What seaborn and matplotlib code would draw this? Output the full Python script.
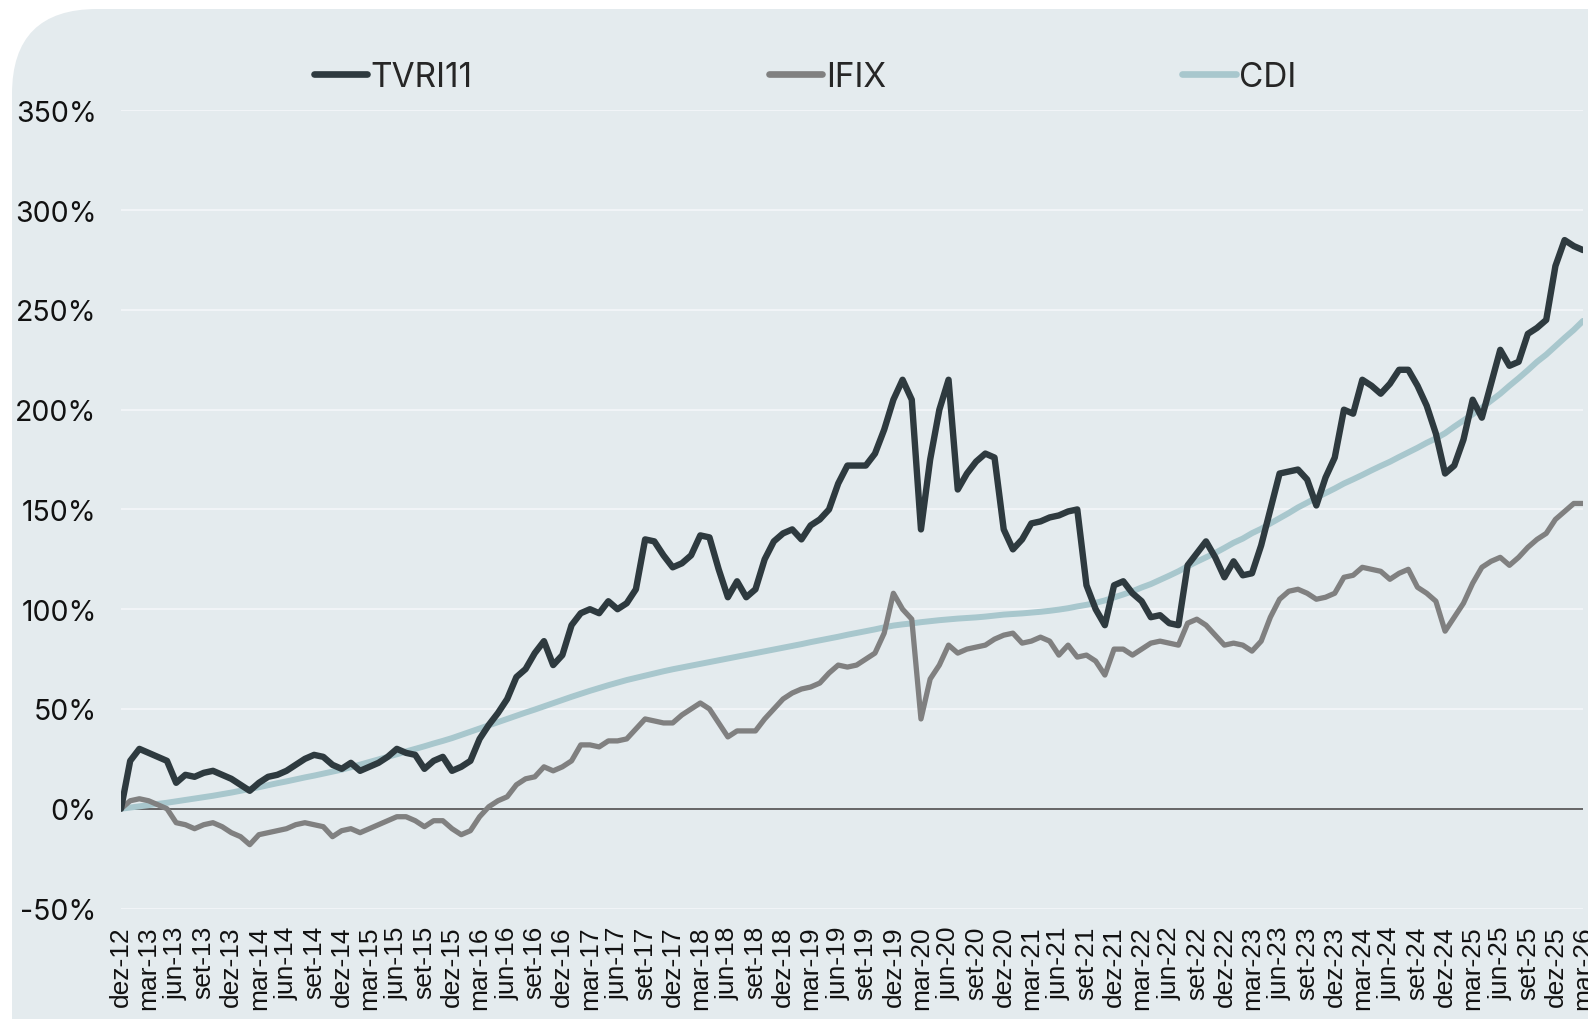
import numpy as np
import pandas as pd
import seaborn as sns
import matplotlib.pyplot as plt
from matplotlib.patches import FancyBboxPatch
from matplotlib.lines import Line2D
from matplotlib.transforms import IdentityTransform

# monthly closes, Dec/2012 .. Mar/2026, accumulated return in %
tvri11 = [
    0, 24, 30, 28, 26, 24, 13, 17, 16, 18, 19, 17,
    15, 12, 9, 13, 16, 17, 19, 22, 25, 27, 26, 22,
    20, 23, 19, 21, 23, 26, 30, 28, 27, 20, 24, 26,
    19, 21, 24, 35, 42, 48, 55, 66, 70, 78, 84, 72,
    77, 92, 98, 100, 98, 104, 100, 103, 110, 135, 134, 127,
    121, 123, 127, 137, 136, 120, 106, 114, 106, 110, 125, 134,
    138, 140, 135, 142, 145, 150, 163, 172, 172, 172, 178, 190,
    205, 215, 205, 140, 175, 200, 215, 160, 168, 174, 178, 176,
    140, 130, 135, 143, 144, 146, 147, 149, 150, 112, 100, 92,
    112, 114, 108, 104, 96, 97, 93, 92, 122, 128, 134, 126,
    116, 124, 117, 118, 132, 150, 168, 169, 170, 165, 152, 166,
    176, 200, 198, 215, 212, 208, 213, 220, 220, 212, 202, 188,
    168, 172, 185, 205, 196, 213, 230, 222, 224, 238, 241, 245,
    272, 285, 282, 280,
]
ifix = [
    0, 4, 5, 4, 2, 0, -7, -8, -10, -8, -7, -9,
    -12, -14, -18, -13, -12, -11, -10, -8, -7, -8, -9, -14,
    -11, -10, -12, -10, -8, -6, -4, -4, -6, -9, -6, -6,
    -10, -13, -11, -4, 1, 4, 6, 12, 15, 16, 21, 19,
    21, 24, 32, 32, 31, 34, 34, 35, 40, 45, 44, 43,
    43, 47, 50, 53, 50, 43, 36, 39, 39, 39, 45, 50,
    55, 58, 60, 61, 63, 68, 72, 71, 72, 75, 78, 88,
    108, 100, 95, 45, 65, 72, 82, 78, 80, 81, 82, 85,
    87, 88, 83, 84, 86, 84, 77, 82, 76, 77, 74, 67,
    80, 80, 77, 80, 83, 84, 83, 82, 93, 95, 92, 87,
    82, 83, 82, 79, 84, 96, 105, 109, 110, 108, 105, 106,
    108, 116, 117, 121, 120, 119, 115, 118, 120, 111, 108, 104,
    89, 96, 103, 113, 121, 124, 126, 122, 126, 131, 135, 138,
    145, 149, 153, 153,
]
cdi = [
    0, 0.6, 1.2, 1.8, 2.4, 3.0, 3.7, 4.4, 5.1, 5.8, 6.5, 7.3,
    8.1, 9.0, 9.9, 10.8, 11.8, 12.8, 13.7, 14.7, 15.7, 16.6, 17.6, 18.6,
    19.6, 20.8, 22.1, 23.4, 24.7, 26.0, 27.3, 28.7, 30.0, 31.3, 32.7, 34.0,
    35.4, 37.0, 38.6, 40.2, 41.8, 43.4, 45.0, 46.6, 48.2, 49.7, 51.3, 52.9,
    54.5, 56.1, 57.6, 59.1, 60.5, 61.9, 63.2, 64.5, 65.6, 66.7, 67.8, 68.9,
    69.9, 70.8, 71.7, 72.6, 73.5, 74.4, 75.3, 76.2, 77.1, 78.0, 78.9, 79.8,
    80.7, 81.6, 82.5, 83.5, 84.4, 85.3, 86.2, 87.2, 88.1, 89.0, 89.9, 90.9,
    91.8, 92.4, 92.9, 93.5, 94.0, 94.5, 94.9, 95.3, 95.6, 95.9, 96.3, 96.8,
    97.3, 97.6, 97.9, 98.3, 98.7, 99.2, 99.8, 100.5, 101.4, 102.2, 103.2, 104.4,
    105.9, 107.4, 109.0, 110.9, 112.6, 114.7, 116.8, 119.0, 121.5, 123.8, 126.0, 128.2,
    130.7, 133.3, 135.4, 138.1, 140.3, 143.0, 145.6, 148.2, 151.0, 153.4, 155.9, 158.2,
    160.5, 163.0, 165.1, 167.3, 169.6, 171.8, 173.9, 176.3, 178.6, 180.9, 183.4, 185.6,
    188.2, 191.5, 194.6, 197.7, 201.0, 204.5, 208.0, 212.0, 215.8, 219.8, 224.0, 227.6,
    231.8, 236.0, 240.0, 244.5,
]

quarters = ["dez", "mar", "jun", "set"]
first_year = 12
n_ticks = 54
tick_labels = [
    f"{quarters[i % 4]}-{first_year + (i + 3) // 4}" for i in range(n_ticks)
]

df = pd.DataFrame({"mes": np.arange(len(tvri11)), "TVRI11": tvri11, "IFIX": ifix, "CDI": cdi})

BG = "#e4ebee"
colors = {"TVRI11": "#2e3a3f", "IFIX": "#808080", "CDI": "#a8c7cd"}
widths = {"TVRI11": 4.6, "IFIX": 3.8, "CDI": 4.3}

sns.set_style("white")
plt.rcParams["font.family"] = ["Inter", "DejaVu Sans"]

fig = plt.figure(figsize=(15.88, 10.2), dpi=100)
fig.patch.set_facecolor("white")
card = FancyBboxPatch(
    (12, -200), 1800, 1210, boxstyle="round,pad=0,rounding_size=85",
    transform=IdentityTransform(), facecolor=BG, edgecolor="none", zorder=-5,
)
fig.patches.append(card)

ax = fig.add_axes([121 / 1588, 1 - 909.5 / 1020, (1583 - 121) / 1588, (909.5 - 111.4) / 1020])
ax.set_facecolor(BG)
ax.patch.set_alpha(0)

for name in ["CDI", "IFIX", "TVRI11"]:
    sns.lineplot(data=df, x="mes", y=name, ax=ax, color=colors[name], linewidth=widths[name],
                 solid_capstyle="round", solid_joinstyle="round", zorder=3, legend=False)

ax.axhline(0, color="#4d4d4d", linewidth=1.2, zorder=2)
ax.set_ylim(-50, 350)
ax.set_xlim(0, 159)
ax.set_yticks(np.arange(-50, 351, 50))
ax.set_yticklabels([f"{v}%" for v in range(-50, 351, 50)], fontsize=20.5, color="#111111")
ax.set_xticks(np.arange(0, 3 * n_ticks, 3))
ax.set_xticklabels(tick_labels, rotation=90, fontsize=19, color="#111111",
                   family=["Liberation Sans", "DejaVu Sans"])
ax.tick_params(axis="both", length=0)
ax.tick_params(axis="y", pad=17.5)
ax.tick_params(axis="x", pad=12)
ax.grid(axis="y", color="#f3f6f8", linewidth=1.3, zorder=1)
ax.set_xlabel("")
ax.set_ylabel("")
sns.despine(ax=ax, left=True, bottom=True)

names = ["TVRI11", "IFIX", "CDI"]
handles = [Line2D([], [], color=colors[n], linewidth=4.8, solid_capstyle="round") for n in names]
fig.legend(handles, names, loc="center", bbox_to_anchor=(805 / 1588, 1 - 78 / 1020), ncol=3,
           frameon=False, fontsize=24, handlelength=1.6, handletextpad=0.1,
           columnspacing=8.9)

fig.savefig("out.png", dpi=100, facecolor="white")
